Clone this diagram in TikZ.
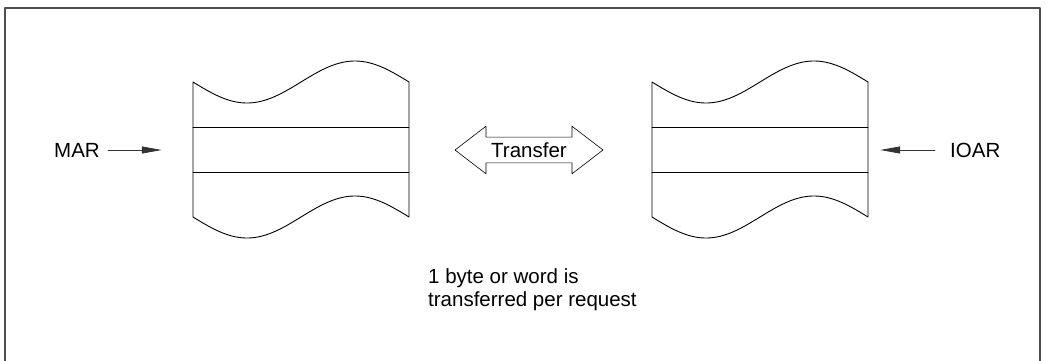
\documentclass[tikz,border=0pt]{standalone}
\usepackage{fontspec}
\setmainfont{Liberation Sans}
\usetikzlibrary{arrows.meta,shapes.arrows}
\definecolor{ink}{HTML}{000000}
\definecolor{framegray}{HTML}{4D4D4D}
\definecolor{arrowgray}{HTML}{333333}
\newcommand{\storage}[2]{%
  \begin{scope}[shift={(#1,0)}]
    \draw[ink, line width=0.9pt]
      plot[variable=\t, domain=0:216, samples=90] (\t, {82+21*sin(\t*5/3)})
      -- plot[variable=\t, domain=216:0, samples=90] (\t, {217+21*sin(\t*5/3)})
      -- cycle;
    \draw[ink, line width=0.9pt] (0,127) -- (216,127);
    \draw[ink, line width=0.9pt] (0,172) -- (216,172);
    \node[inner sep=0pt, minimum width=216pt, minimum height=45pt] (#2) at (108,150) {};
  \end{scope}
}

\begin{document}
\begin{tikzpicture}[
  x=1pt,
  y=-1pt,
  font=\fontsize{20.5}{23}\selectfont,
  line cap=round,
  line join=round,
  >={Triangle[length=20pt,width=7pt]}
]
  \useasboundingbox (0,0) rectangle (1053,360);
  \draw[framegray, line width=1.5pt] (5,365) -- (5,8) -- (1040,8) -- (1040,365);

  \storage{193}{memL}
  \storage{652}{memR}

  \node[anchor=east, inner sep=0pt] (mar) at (100,150) {MAR};
  \node[anchor=west, inner sep=0pt] (ioar) at (950,150) {IOAR};
  \draw[->, arrowgray, line width=0.8pt, shorten <=8pt, shorten >=31pt] (mar) -- (memL);
  \draw[->, arrowgray, line width=0.8pt, shorten <=15pt, shorten >=12pt] (ioar) -- (memR);

  \node[double arrow, draw, line width=0.6pt, inner xsep=6pt, inner ysep=5pt,
    double arrow tip angle=75, double arrow head extend=11pt,
    minimum height=148pt] (xfer) at (529,150) {Transfer};

  \node[anchor=north west, align=left, inner sep=0pt] (note) at (428,268)
    {1 byte or word is\\transferred per request};
\end{tikzpicture}
\end{document}
